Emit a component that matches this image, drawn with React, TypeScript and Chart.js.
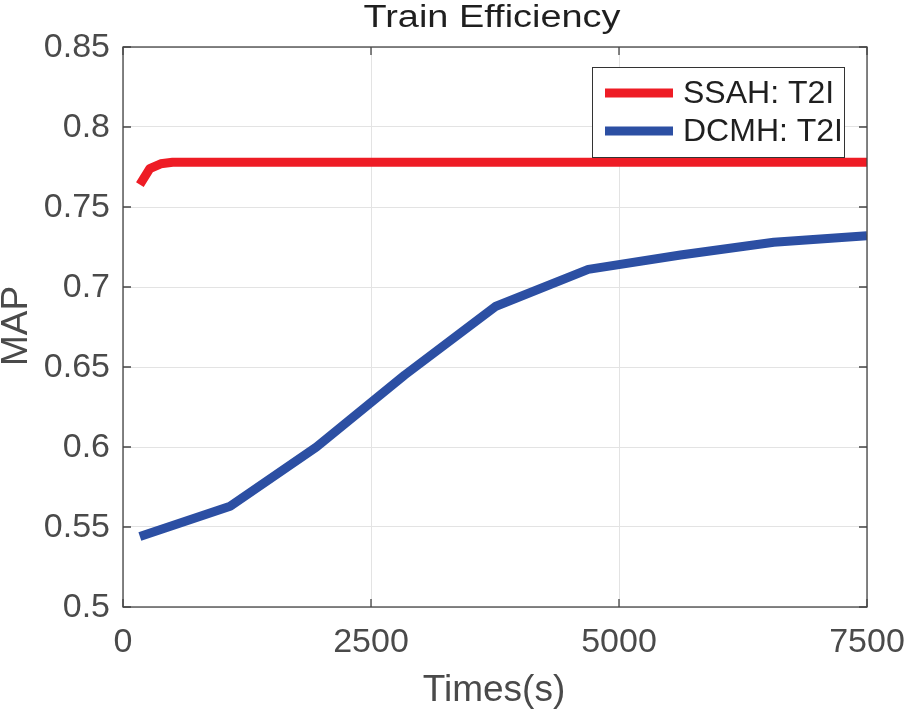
import React, { useEffect, useRef } from "react";
import { Chart, registerables } from "chart.js";

Chart.register(...registerables);

const ssahX = [170, 270, 380, 500, 1000, 2000, 3000, 4000, 5000, 6000, 7000, 7500];
const ssahY = [0.764, 0.774, 0.777, 0.778, 0.778, 0.778, 0.778, 0.778, 0.778, 0.778, 0.778, 0.778];
const dcmhX = [170, 1080, 1950, 2840, 3760, 4690, 5620, 6560, 7500];
const dcmhY = [0.544, 0.563, 0.6, 0.645, 0.688, 0.711, 0.72, 0.728, 0.732];
const xTicks = [0, 2500, 5000, 7500];
const yTicks = [0.5, 0.55, 0.6, 0.65, 0.7, 0.75, 0.8, 0.85];
const xTickLabels = ["0", "2500", "5000", "7500"];
const yTickLabels = ["0.5", "0.55", "0.6", "0.65", "0.7", "0.75", "0.8", "0.85"];
const seriesNames = ["SSAH: T2I", "DCMH: T2I"];
const seriesColors = ["#ee1c25", "#2c4fa3"];
const titleText = "Train Efficiency";
const xTitle = "Times(s)";
const yTitle = "MAP";

const FONT = "'Liberation Sans', Arial, Helvetica, sans-serif";

const decor = {
  id: "decor",
  afterDatasetsDraw(chart: any) {
    const { ctx, chartArea: a, scales } = chart;
    const xs = scales.x;
    const ys = scales.y;
    ctx.save();
    // box
    ctx.strokeStyle = "#444444";
    ctx.lineWidth = 1.3;
    ctx.strokeRect(a.left, a.top, a.right - a.left, a.bottom - a.top);
    // inner ticks
    const tl = 8;
    ctx.beginPath();
    xTicks.forEach((v) => {
      const px = xs.getPixelForValue(v);
      ctx.moveTo(px, a.bottom);
      ctx.lineTo(px, a.bottom - tl);
      ctx.moveTo(px, a.top);
      ctx.lineTo(px, a.top + tl);
    });
    yTicks.forEach((v) => {
      const py = ys.getPixelForValue(v);
      ctx.moveTo(a.left, py);
      ctx.lineTo(a.left + tl, py);
      ctx.moveTo(a.right, py);
      ctx.lineTo(a.right - tl, py);
    });
    ctx.stroke();

    // tick labels
    ctx.fillStyle = "#4a4a4a";
    ctx.font = `34px ${FONT}`;
    ctx.textBaseline = "middle";
    ctx.textAlign = "right";
    yTicks.forEach((v, i) => {
      ctx.fillText(yTickLabels[i], 110, ys.getPixelForValue(v) + 1);
    });
    ctx.textAlign = "center";
    xTicks.forEach((v, i) => {
      ctx.fillText(xTickLabels[i], xs.getPixelForValue(v), 643);
    });

    // title (slightly stretched horizontally as in the reference)
    ctx.fillStyle = "#1f1f1f";
    ctx.font = `31px ${FONT}`;
    ctx.textAlign = "center";
    const tw = ctx.measureText(titleText).width;
    const sx = 257 / tw;
    ctx.save();
    ctx.translate(492, 18);
    ctx.scale(sx, 1);
    ctx.fillText(titleText, 0, 0);
    ctx.restore();

    // axis titles
    ctx.fillStyle = "#4a4a4a";
    ctx.font = `37px ${FONT}`;
    ctx.fillText(xTitle, 494, 691);
    ctx.save();
    ctx.translate(17, 326);
    ctx.rotate(-Math.PI / 2);
    ctx.fillText(yTitle, 0, 0);
    ctx.restore();

    // legend
    const lx = 592, ly = 67, lw = 252, lh = 90;
    ctx.fillStyle = "#ffffff";
    ctx.fillRect(lx, ly, lw, lh);
    ctx.strokeStyle = "#333333";
    ctx.lineWidth = 1;
    ctx.strokeRect(lx + 0.5, ly + 0.5, lw, lh);
    const rows = [93, 131];
    seriesNames.forEach((name, i) => {
      ctx.strokeStyle = seriesColors[i];
      ctx.lineWidth = 9;
      ctx.beginPath();
      ctx.moveTo(605, rows[i]);
      ctx.lineTo(673, rows[i]);
      ctx.stroke();
      ctx.fillStyle = "#1f1f1f";
      ctx.font = `32px ${FONT}`;
      ctx.textAlign = "left";
      ctx.textBaseline = "middle";
      ctx.fillText(name, 683, rows[i] + 1);
    });
    ctx.restore();
  },
};

export default function App() {
  const ref = useRef<HTMLCanvasElement>(null);
  useEffect(() => {
    document.body.style.margin = "0";
    const canvas = ref.current!;
    const chart = new Chart(canvas, {
      type: "line",
      data: {
        datasets: [
          {
            label: seriesNames[0],
            data: ssahX.map((x, i) => ({ x, y: ssahY[i] })),
            borderColor: seriesColors[0],
            borderWidth: 9,
            pointRadius: 0,
            tension: 0,
            borderJoinStyle: "round",
          },
          {
            label: seriesNames[1],
            data: dcmhX.map((x, i) => ({ x, y: dcmhY[i] })),
            borderColor: seriesColors[1],
            borderWidth: 9,
            pointRadius: 0,
            tension: 0,
            borderJoinStyle: "round",
          },
        ],
      },
      options: {
        responsive: false,
        animation: false,
        layout: { padding: { top: 47, right: 37, left: 0, bottom: 0 } },
        plugins: { legend: { display: false }, title: { display: false }, tooltip: { enabled: false } },
        scales: {
          x: {
            type: "linear",
            min: 0,
            max: 7500,
            afterBuildTicks: (s: any) => {
              s.ticks = xTicks.map((v) => ({ value: v }));
            },
            afterFit: (s: any) => {
              s.height = 107;
            },
            grid: { color: "#e3e3e3", lineWidth: 1, drawTicks: false },
            border: { display: false },
            ticks: { display: false },
          },
          y: {
            type: "linear",
            min: 0.5,
            max: 0.85,
            afterBuildTicks: (s: any) => {
              s.ticks = yTicks.map((v) => ({ value: v }));
            },
            afterFit: (s: any) => {
              s.width = 123;
            },
            grid: { color: "#e3e3e3", lineWidth: 1, drawTicks: false },
            border: { display: false },
            ticks: { display: false },
          },
        },
      },
      plugins: [decor],
    });
    return () => chart.destroy();
  }, []);
  return <canvas ref={ref} width={904} height={714} style={{ display: "block" }} />;
}
